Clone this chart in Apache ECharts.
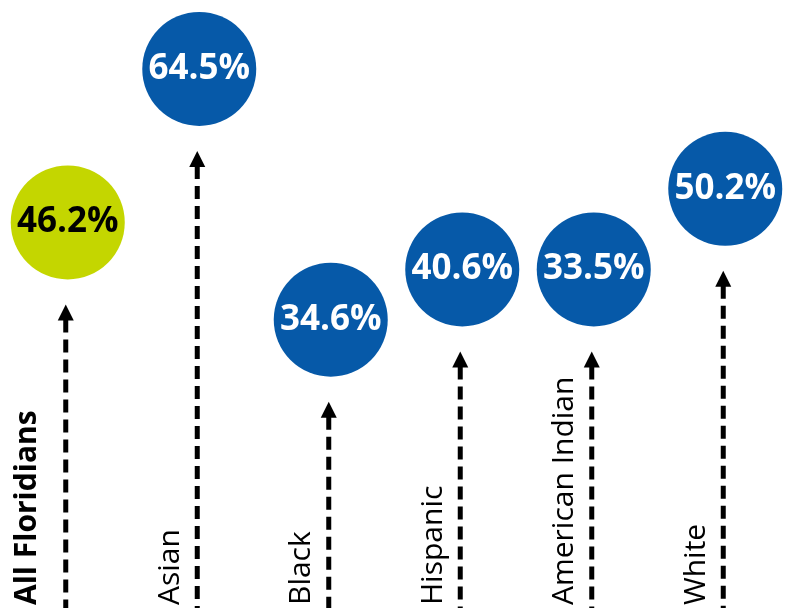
<!DOCTYPE html>
<html>
<head>
<meta charset="utf-8">
<script src="https://cdn.jsdelivr.net/npm/echarts@6/dist/echarts.min.js"></script>
<style>
  html, body { margin: 0; padding: 0; background: #fff; }
  #chart { width: 789px; height: 608px; }
</style>
</head>
<body>
<div id="chart"></div>
<script>
// groups along the x axis
var groups = ['All Floridians', 'Asian', 'Black', 'Hispanic', 'American Indian', 'White'];
// printed percentage in each circle
var rates = [46.2, 64.5, 34.6, 40.6, 33.5, 50.2];
// height the arrow reaches in the picture (American Indian is drawn level with Hispanic)
var arrowLevel = [46.2, 64.5, 34.6, 40.6, 40.6, 50.2];
// circle colours: overall group in green, the rest in blue
var circleColors = ['#C4D600', '#0659A8', '#0659A8', '#0659A8', '#0659A8', '#0659A8'];
var labelColors = ['#000000', '#ffffff', '#ffffff', '#ffffff', '#ffffff', '#ffffff'];

var yMin = 10, yMax = 82.5;

var chart = echarts.init(document.getElementById('chart'));

var arrowData = arrowLevel.map(function (v, i) { return [i, v]; });

var circleData = arrowLevel.map(function (v, i) {
    return {
        value: [i, v],
        itemStyle: { color: circleColors[i], opacity: 1 },
        label: { color: labelColors[i] }
    };
});

// dashed shaft + arrow head + rotated group name
function renderArrow(params, api) {
    var i = api.value(0);
    var tip = api.coord([i, api.value(1)]);
    var bottom = params.coordSys.y + params.coordSys.height;
    var head = 15;
    var first = i === 0;
    return {
        type: 'group',
        children: [
            {
                type: 'line',
                shape: { x1: tip[0], y1: tip[1] + head, x2: tip[0], y2: bottom + 4 },
                style: { stroke: '#000', lineWidth: 5, lineDash: [13, 7] }
            },
            {
                type: 'polygon',
                shape: { points: [[tip[0], tip[1]], [tip[0] - 8, tip[1] + head + 1], [tip[0] + 8, tip[1] + head + 1]] },
                style: { fill: '#000' }
            },
            {
                type: 'text',
                x: tip[0] - (first ? 38 : 27),
                y: bottom - 3,
                rotation: Math.PI / 2,
                style: {
                    text: groups[i],
                    fill: '#000',
                    font: (first ? 'bold ' : '') + '30px "Open Sans", sans-serif',
                    align: 'left',
                    verticalAlign: 'middle'
                }
            }
        ]
    };
}

var option = {
    backgroundColor: '#ffffff',
    animation: false,
    grid: { left: 0, right: 0, top: 0, bottom: 0 },
    xAxis: {
        type: 'category',
        data: groups,
        show: false
    },
    yAxis: {
        type: 'value',
        min: yMin,
        max: yMax,
        show: false
    },
    series: [
        {
            type: 'custom',
            renderItem: renderArrow,
            data: arrowData,
            silent: true
        },
        {
            type: 'scatter',
            data: circleData,
            symbol: 'circle',
            symbolSize: 114,
            symbolOffset: [2, -82],
            label: {
                show: true,
                position: 'inside',
                fontFamily: 'Open Sans',
                fontWeight: 'bold',
                fontSize: 35,
                formatter: function (p) { return rates[p.dataIndex].toFixed(1) + '%'; }
            }
        }
    ]
};

chart.setOption(option);
</script>
</body>
</html>
